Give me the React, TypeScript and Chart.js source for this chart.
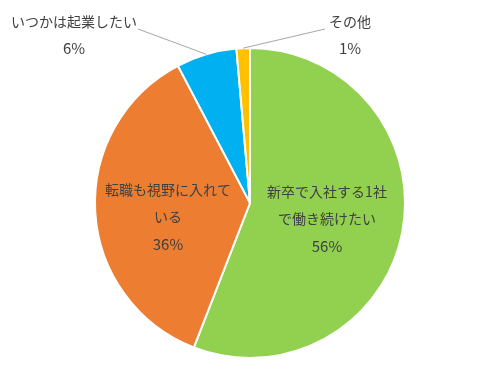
import React, { useEffect, useRef } from "react";
import { Chart, registerables } from "chart.js";

Chart.register(...registerables);

const categories = ["新卒で入社する1社で働き続けたい", "転職も視野に入れている", "いつかは起業したい", "その他"];
const values = [55.9, 36.4, 6.3, 1.4];
const percentLabels = ["56%", "36%", "6%", "1%"];
const colors = ["#92D050", "#ED7D31", "#00B0F0", "#FFC000"];

// label text lines per slice
const labelLines = [
  ["新卒で入社する1社", "で働き続けたい"],
  ["転職も視野に入れて", "いる"],
  ["いつかは起業したい"],
  ["その他"],
];

const FONT = '14px "Noto Sans CJK JP", "Noto Sans", sans-serif';
const PFONT = '15px "Noto Sans CJK JP", "Noto Sans", sans-serif';
const TEXT_COLOR = "#404040";

const labelPlugin = {
  id: "pieLabels",
  afterDatasetsDraw(chart: any) {
    const ctx = chart.ctx;
    const meta = chart.getDatasetMeta(0);
    const a0 = meta.data[0];
    const cx = a0.x;
    const cy = a0.y;
    const r = a0.outerRadius;
    ctx.save();
    ctx.fillStyle = TEXT_COLOR;
    ctx.textAlign = "center";
    ctx.textBaseline = "middle";
    const inside: Record<number, [number, number]> = { 0: [77, -11], 1: [-82, -13] };
    const lh = 27;
    for (const k of [0, 1]) {
      const [dx, dy] = inside[k];
      const lines = labelLines[k];
      ctx.font = FONT;
      lines.forEach((t, i) => ctx.fillText(t, cx + dx, cy + dy + i * lh));
      ctx.font = PFONT;
      ctx.fillText(percentLabels[k], cx + dx, cy + dy + lines.length * lh);
    }
    const outside: Record<number, { tx: number; ty: number; lx: number; ly: number }> = {
      2: { tx: -176, ty: -181, lx: -112, ly: -174 },
      3: { tx: 100, ty: -181, lx: 75, ly: -174 },
    };
    for (const k of [2, 3]) {
      const o = outside[k];
      const arc = meta.data[k];
      const mid = (arc.startAngle + arc.endAngle) / 2;
      const ex = cx + Math.cos(mid) * r;
      const ey = cy + Math.sin(mid) * r;
      ctx.strokeStyle = "#A6A6A6";
      ctx.lineWidth = 1;
      ctx.beginPath();
      ctx.moveTo(cx + o.lx, cy + o.ly);
      ctx.lineTo(ex, ey);
      ctx.stroke();
      ctx.font = FONT;
      ctx.fillText(labelLines[k][0], cx + o.tx, cy + o.ty);
      ctx.font = PFONT;
      ctx.fillText(percentLabels[k], cx + o.tx, cy + o.ty + 26);
    }
    ctx.restore();
  },
};

export default function App() {
  const ref = useRef<HTMLCanvasElement>(null);
  useEffect(() => {
    document.body.style.margin = "0";
    const chart = new Chart(ref.current!, {
      type: "pie",
      data: {
        labels: categories,
        datasets: [
          {
            data: values,
            backgroundColor: colors,
            borderColor: "#FFFFFF",
            borderWidth: 2,
          },
        ],
      },
      options: {
        animation: false,
        responsive: false,
        layout: { padding: { top: 47, bottom: 26, left: 15, right: 0 } },
        plugins: { legend: { display: false }, tooltip: { enabled: false } },
      },
      plugins: [labelPlugin],
    });
    return () => chart.destroy();
  }, []);
  return (
    <div style={{ width: 485, height: 385, background: "#fff" }}>
      <canvas ref={ref} width={485} height={385} />
    </div>
  );
}
